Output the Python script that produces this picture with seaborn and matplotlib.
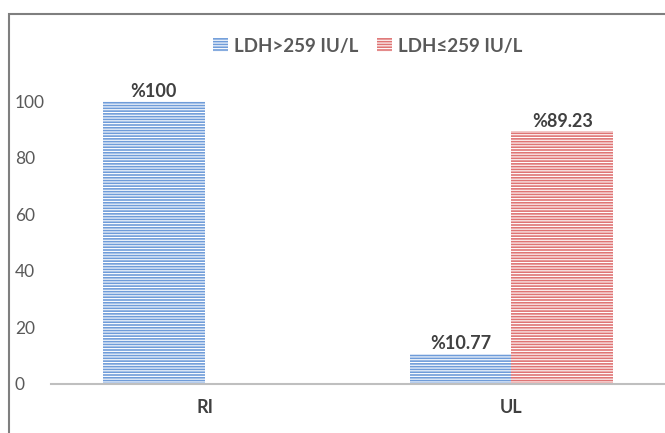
import pandas as pd
import matplotlib
matplotlib.use('Agg')
import matplotlib.pyplot as plt
import seaborn as sns
from matplotlib.patches import Patch, Rectangle

# data
categories = ['RI', 'UL']
series_names = ['LDH>259 IU/L', 'LDH≤259 IU/L']
high_ldh = [100, 10.77]
low_ldh = [0, 89.23]
bar_labels_high = ['%100', '%10.77']
bar_labels_low = ['', '%89.23']
colors = ['#6f9cd9', '#df7474']

df = pd.DataFrame({
    'Group': categories * 2,
    'LDH': [series_names[0]] * 2 + [series_names[1]] * 2,
    'Percent': high_ldh + low_ldh,
})

sns.set_style('white')
plt.rcParams['font.family'] = ['Lato', 'DejaVu Sans']
plt.rcParams['hatch.linewidth'] = 0.8

fig = plt.figure(figsize=(6.65, 4.33), dpi=100)
ax = fig.add_axes([51 / 665, 49 / 433, 614 / 665, 311.3 / 433])

sns.barplot(data=df, x='Group', y='Percent', hue='LDH', palette=colors,
            width=0.664, saturation=1, legend=False, ax=ax)

# horizontal stripe fill like the original
for cont in ax.containers:
    for bar in cont:
        bar.set_hatch('------')
        bar.set_edgecolor('white')
        bar.set_linewidth(0)

for cont, labs in zip(ax.containers, [bar_labels_high, bar_labels_low]):
    ax.bar_label(cont, labels=labs, padding=1, fontsize=13, fontweight='bold',
                 color='#404040')

ax.set_xlim(-0.5, 1.5)
ax.set_ylim(0, 110)
ax.set_yticks([0, 20, 40, 60, 80, 100])
ax.set_xlabel('')
ax.set_ylabel('')
for s in ['top', 'right', 'left']:
    ax.spines[s].set_visible(False)
ax.spines['bottom'].set_color('#bfbfbf')
ax.spines['bottom'].set_linewidth(1.5)
ax.tick_params(axis='y', length=0, pad=26, labelsize=12.5, labelcolor='#595959')
for t in ax.get_yticklabels():
    t.set_horizontalalignment('left')
ax.tick_params(axis='x', length=0, pad=11, labelsize=13, labelcolor='#404040')
for t in ax.get_xticklabels():
    t.set_fontweight('bold')

handles = [Patch(facecolor=c, edgecolor='white', hatch='------', linewidth=0) for c in colors]
fig.legend(handles, series_names, loc='center', bbox_to_anchor=(0.553, 0.893), ncol=2,
           frameon=False, handlelength=0.8, handleheight=0.8, handletextpad=0.3,
           columnspacing=1.0, prop={'size': 13.5, 'weight': 'bold'}, labelcolor='#595959')

# outer frame of the chart area
fig.add_artist(Rectangle((9 / 665, -0.2), 1.2, 0.2 + (433 - 14) / 433,
                         transform=fig.transFigure, fill=False, edgecolor='#7f7f7f',
                         linewidth=1.5))

fig.savefig('out.png', dpi=100)
